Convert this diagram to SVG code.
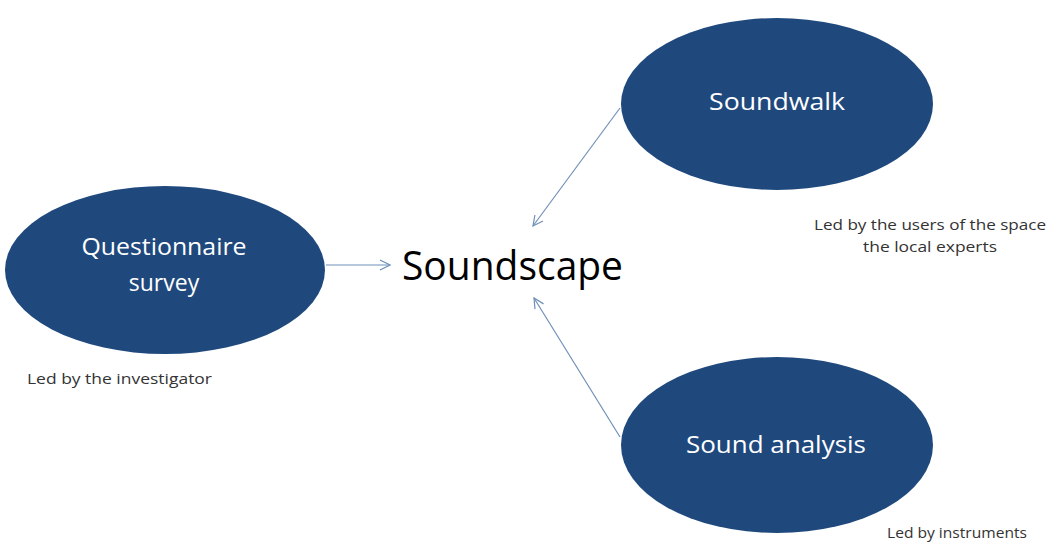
<svg xmlns="http://www.w3.org/2000/svg" width="1051" height="542" viewBox="0 0 1051 542">
<defs>
<marker id="ah" viewBox="0 0 12 12" refX="11" refY="6" markerWidth="12" markerHeight="12" markerUnits="userSpaceOnUse" orient="auto">
<path d="M1,1 L11,6 L1,11" fill="none" stroke="#7090b8" stroke-width="1.2"/>
</marker>
<style>
.node{fill:#1f497d;}
.nt{fill:#ffffff;font-family:"Open Sans","Liberation Sans",sans-serif;font-size:23px;text-anchor:middle;}
.lbl{fill:#333333;font-family:"Open Sans","Liberation Sans",sans-serif;font-size:15px;}
.conn{stroke:#7090b8;stroke-width:1.2;fill:none;marker-end:url(#ah);}
</style>
</defs>
<rect width="1051" height="542" fill="#ffffff"/>
<g id="questionnaire">
<ellipse class="node" cx="165" cy="270" rx="160" ry="84"/>
<text class="nt" x="164" y="255" textLength="165" lengthAdjust="spacingAndGlyphs">Questionnaire</text>
<text class="nt" x="164" y="291">survey</text>
</g>
<g id="soundwalk">
<ellipse class="node" cx="777" cy="104" rx="156" ry="86"/>
<text class="nt" x="777" y="110" textLength="136" lengthAdjust="spacingAndGlyphs">Soundwalk</text>
</g>
<g id="soundanalysis">
<ellipse class="node" cx="777" cy="445" rx="156" ry="88"/>
<text class="nt" x="776" y="453" textLength="180" lengthAdjust="spacingAndGlyphs">Sound analysis</text>
</g>
<g id="soundscape">
<text x="402" y="280" font-family="'Open Sans','Liberation Sans',sans-serif" font-size="40" fill="#000000" textLength="221" lengthAdjust="spacingAndGlyphs">Soundscape</text>
</g>
<g id="connectors">
<line class="conn" x1="326" y1="265" x2="390" y2="265"/>
<line class="conn" x1="620" y1="108" x2="533" y2="226"/>
<line class="conn" x1="620" y1="437" x2="534" y2="298"/>
</g>
<g id="labels">
<text class="lbl" x="814" y="230" textLength="232" lengthAdjust="spacingAndGlyphs">Led by the users of the space</text>
<text class="lbl" x="863" y="252" textLength="134" lengthAdjust="spacingAndGlyphs">the local experts</text>
<text class="lbl" x="27" y="384" textLength="185" lengthAdjust="spacingAndGlyphs">Led by the investigator</text>
<text class="lbl" x="887" y="538" textLength="140" lengthAdjust="spacingAndGlyphs">Led by instruments</text>
</g>
</svg>
